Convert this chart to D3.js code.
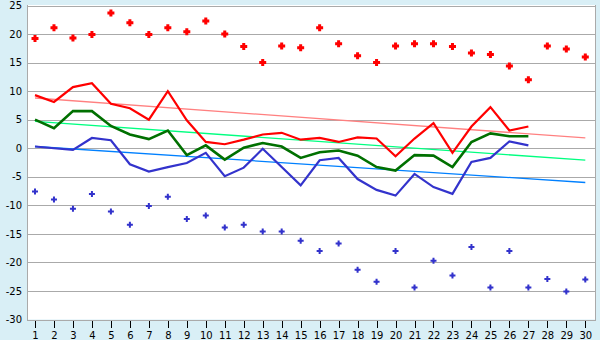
<!DOCTYPE html>
<html><head><meta charset="utf-8">
<script src="https://cdn.jsdelivr.net/npm/d3@7/dist/d3.min.js"></script>
<style>html,body{margin:0;padding:0;background:#d9eff6;}svg{display:block;}</style>
</head><body><svg id="c" width="600" height="340"></svg>
<script>
const days = [1,2,3,4,5,6,7,8,9,10,11,12,13,14,15,16,17,18,19,20,21,22,23,24,25,26,27,28,29,30];
const yTicks = [25,20,15,10,5,0,-5,-10,-15,-20,-25,-30];
// record highs / lows (dots), days 1..30
const recordMax = [19.2,21.1,19.3,19.9,23.7,22.0,19.9,21.1,20.4,22.3,20.0,17.8,15.0,17.9,17.6,21.1,18.3,16.2,15.0,17.9,18.3,18.3,17.8,16.7,16.4,14.4,12.0,17.9,17.4,16.0];
const recordMin = [-7.6,-9.0,-10.6,-8.0,-11.1,-13.4,-10.1,-8.5,-12.4,-11.8,-13.9,-13.4,-14.6,-14.6,-16.2,-18.0,-16.7,-21.3,-23.4,-18.0,-24.4,-19.7,-22.3,-17.3,-24.4,-18.0,-24.4,-22.9,-25.1,-23.0];
// observed daily values, days 1..27
const dailyMax = [9.3,8.1,10.7,11.4,7.8,7.0,5.0,10.0,4.9,1.1,0.7,1.5,2.4,2.7,1.5,1.8,1.1,1.9,1.7,-1.4,1.7,4.4,-0.8,3.8,7.2,3.1,3.8];
const dailyMean = [5.0,3.5,6.5,6.5,3.9,2.4,1.6,3.1,-1.2,0.5,-2.0,0.1,0.9,0.3,-1.7,-0.7,-0.4,-1.3,-3.3,-3.9,-1.2,-1.3,-3.3,1.1,2.6,2.1,2.1];
const dailyMin = [0.3,0.0,-0.3,1.8,1.4,-2.8,-4.1,-3.3,-2.6,-0.8,-4.9,-3.4,-0.1,-3.3,-6.5,-2.1,-1.7,-5.4,-7.3,-8.3,-4.5,-6.8,-8.0,-2.4,-1.7,1.2,0.5];
// normal (trend) lines: value at day 1 and at day 30
const trendDays = [1,30];
const normalMax = [8.8,1.8];
const normalMean = [4.7,-2.1];
const normalMin = [0.3,-6.0];

const svg = d3.select('#c');
const L = 27, R = 595, T = 5, B = 319.5;
const x = d3.scalePoint().domain(days).range([35, 585.3]);
const y = d3.scaleLinear().domain([-30,25]).range([B, T+0.5]);

svg.append('rect').attr('x',0).attr('y',0).attr('width',600).attr('height',340).attr('fill','#d9eff6');
svg.append('rect').attr('x',L).attr('y',T).attr('width',R-L).attr('height',B-T).attr('fill','#ffffff');

// gridlines
svg.append('g').selectAll('line').data(yTicks).join('line')
  .attr('x1',L).attr('x2',R).attr('y1',d=>Math.round(y(d))+0.5).attr('y2',d=>Math.round(y(d))+0.5)
  .attr('stroke','#aaaaaa').attr('stroke-width',1).attr('shape-rendering','crispEdges');
// frame
svg.append('line').attr('x1',L+0.5).attr('x2',L+0.5).attr('y1',T).attr('y2',B+0.5).attr('stroke','#aaaaaa').attr('shape-rendering','crispEdges');
svg.append('line').attr('x1',R+0.5).attr('x2',R+0.5).attr('y1',T).attr('y2',B+0.5).attr('stroke','#aaaaaa').attr('shape-rendering','crispEdges');

// y axis labels
const yAxis = d3.axisLeft(y).tickValues(yTicks).tickSize(0).tickPadding(5).tickFormat(d=>String(d));
const gy = svg.append('g').attr('transform',`translate(${L},0)`).call(yAxis);
gy.select('.domain').remove();
gy.selectAll('text').attr('font-family','DejaVu Sans, Verdana, sans-serif').attr('font-size',10).attr('fill','#000');

// x axis
const xAxis = d3.axisBottom(x).tickSize(7).tickPadding(4);
const gx = svg.append('g').attr('transform',`translate(0,${Math.round(B)+0.5})`).call(xAxis);
gx.select('.domain').attr('stroke','#aaaaaa').attr('d',`M${L},0H${R+1}`);
gx.selectAll('.tick line').attr('stroke','#000').attr('shape-rendering','crispEdges');
gx.selectAll('text').attr('font-family','DejaVu Sans, Verdana, sans-serif').attr('font-size',10).attr('fill','#000');

// trend lines
const trendLine = d3.line().x((d,i)=>x(trendDays[i])).y(d=>y(d));
[[normalMax,'#ff8080'],[normalMean,'#00ff80'],[normalMin,'#0080ff']].forEach(([arr,c])=>{
  svg.append('path').attr('d',trendLine(arr)).attr('fill','none').attr('stroke',c).attr('stroke-width',1.3);
});

// daily lines
const line = d3.line().x((d,i)=>x(days[i])).y(d=>y(d));
[[dailyMax,'#ff0000',2.2],[dailyMean,'#007000',2.6],[dailyMin,'#3333cc',2.2]].forEach(([arr,c,w])=>{
  svg.append('path').attr('d',line(arr)).attr('fill','none').attr('stroke',c).attr('stroke-width',w).attr('stroke-linejoin','miter');
});

// record dots: chunky plus marks
function plus(h, a){
  return `M${-a},${-h}H${a}V${-a}H${h}V${a}H${a}V${h}H${-a}V${a}H${-h}V${-a}H${-a}Z`;
}
svg.append('g').selectAll('path').data(recordMax).join('path')
  .attr('d',plus(3.5,1.5)).attr('transform',(d,i)=>`translate(${x(days[i])},${y(d)})`).attr('fill','#ff0000');
svg.append('g').selectAll('path').data(recordMax).join('path')
  .attr('d',d3.symbol().type(d3.symbolSquare).size(12)).attr('transform',(d,i)=>`translate(${x(days[i])},${y(d)}) rotate(45)`).attr('fill','#ff0000');
svg.append('g').selectAll('path').data(recordMin).join('path')
  .attr('d',plus(3,1)).attr('transform',(d,i)=>`translate(${x(days[i])},${y(d)})`).attr('fill','#3333cc');
svg.append('g').selectAll('path').data(recordMin).join('path')
  .attr('d',d3.symbol().type(d3.symbolSquare).size(6)).attr('transform',(d,i)=>`translate(${x(days[i])},${y(d)}) rotate(45)`).attr('fill','#3333cc');
</script></body></html>
